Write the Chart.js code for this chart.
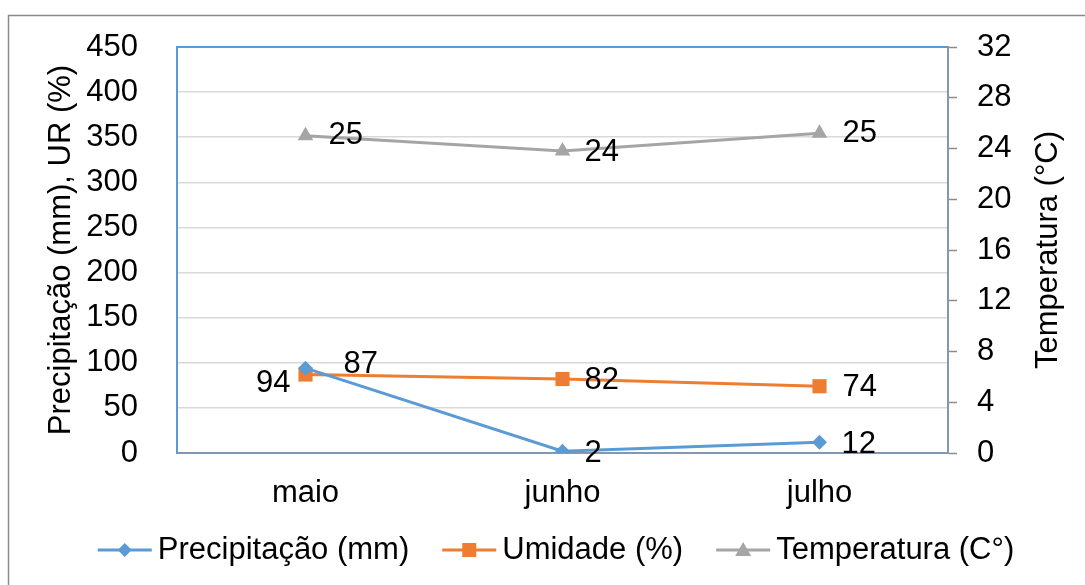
<!DOCTYPE html>
<html lang="pt">
<head>
<meta charset="utf-8">
<title>Precipitação, umidade e temperatura</title>
<script src="https://cdn.jsdelivr.net/npm/chart.js@4/dist/chart.umd.min.js"></script>
<style>
  html, body { margin: 0; padding: 0; background: #fff; }
  #wrap { width: 1085px; height: 585px; position: relative; }
</style>
</head>
<body>
<div id="wrap"><canvas id="chartClima"></canvas></div>
<script>
// Dados
const meses = ['maio', 'junho', 'julho'];
const precipitacao = [94, 2, 12];          // mm
const umidade = [87, 82, 74];              // %
const temperatura = [25.0, 23.8, 25.2];    // °C (eixo direito)

// Escalas
const eixoEsq = { min: 0, max: 450, passo: 50 };
const eixoDir = { min: 0, max: 32, passo: 4 };

// Textos
const tituloEsq = 'Precipitação (mm), UR (%)';
const tituloDir = 'Temperatura (°C)';
const nomes = ['Precipitação (mm)', 'Umidade (%)', 'Temperatura (C°)'];

// Estilo
const FONTE = "'Liberation Sans', Arial, sans-serif";
const TAM = 31;
const AZUL = '#5b9bd5';
const LARANJA = '#ed7d31';
const CINZA = '#a5a5a5';
const EIXO = '#8497b0';

// Posição dos rótulos de dados: [lado, dx, dy] por ponto
const posPrecip = [['left', -15, 15], ['right', 22, 2], ['right', 22, 2]];
const posUmid = [['right', 38, -10], ['right', 22, 1], ['right', 23, 1]];
const posTemp = [['right', 23, 0], ['right', 22, 1], ['right', 23, 0]];

// Plugin: fundo e moldura
const moldura = {
  id: 'moldura',
  beforeDraw(chart) {
    const ctx = chart.ctx;
    ctx.save();
    ctx.fillStyle = '#fff';
    ctx.fillRect(0, 0, chart.width, chart.height);
    ctx.strokeStyle = '#8a8a8a';
    ctx.lineWidth = 1.5;
    ctx.strokeRect(8.5, 15.5, chart.width + 20, chart.height + 20);
    ctx.restore();
  },
  afterDraw(chart) {
    const ctx = chart.ctx;
    const a = chart.chartArea;
    ctx.save();
    // linha superior da área de plotagem
    ctx.strokeStyle = AZUL;
    ctx.lineWidth = 2;
    ctx.beginPath();
    ctx.moveTo(a.left, a.top);
    ctx.lineTo(a.right, a.top);
    ctx.stroke();
    // título do eixo direito (de baixo para cima)
    ctx.fillStyle = '#000';
    ctx.font = TAM + 'px ' + FONTE;
    ctx.textAlign = 'center';
    ctx.textBaseline = 'middle';
    ctx.translate(chart.width - 37, (a.top + a.bottom) / 2);
    ctx.rotate(-Math.PI / 2);
    ctx.fillText(tituloDir, 0, 0);
    ctx.restore();
  }
};

// Plugin: rótulos de dados
const rotulos = {
  id: 'rotulos',
  afterDatasetsDraw(chart) {
    const ctx = chart.ctx;
    ctx.save();
    ctx.font = TAM + 'px ' + FONTE;
    ctx.fillStyle = '#000';
    ctx.textBaseline = 'middle';
    chart.data.datasets.forEach((ds, i) => {
      const meta = chart.getDatasetMeta(i);
      meta.data.forEach((pt, j) => {
        const [lado, dx, dy] = ds.posRotulo[j];
        ctx.textAlign = lado === 'left' ? 'right' : 'left';
        ctx.fillText(Math.round(ds.data[j]).toString(), pt.x + dx, pt.y + dy);
      });
    });
    ctx.restore();
  }
};

function marcador(ctx, estilo, x, y, cor) {
  ctx.fillStyle = cor;
  ctx.beginPath();
  if (estilo === 'rectRot') {
    ctx.moveTo(x - 7, y); ctx.lineTo(x, y - 7); ctx.lineTo(x + 7, y); ctx.lineTo(x, y + 7);
  } else if (estilo === 'rect') {
    ctx.rect(x - 7, y - 7, 14, 14);
  } else {
    ctx.moveTo(x, y - 8); ctx.lineTo(x + 8, y + 6); ctx.lineTo(x - 8, y + 6);
  }
  ctx.closePath();
  ctx.fill();
}

// Plugin: legenda com linha + marcador
const legenda = {
  id: 'legenda',
  afterDraw(chart) {
    const ctx = chart.ctx;
    ctx.save();
    ctx.font = TAM + 'px ' + FONTE;
    ctx.textBaseline = 'middle';
    ctx.textAlign = 'left';
    const linha = 54, gapTxt = 6, gapItem = 33;
    const itens = chart.data.datasets.map(ds => ({
      ds, w: linha + gapTxt + ctx.measureText(ds.label).width
    }));
    const total = itens.reduce((s, it) => s + it.w, 0) + gapItem * (itens.length - 1);
    let x = 556 - total / 2;
    const y = 550;
    itens.forEach(it => {
      ctx.strokeStyle = it.ds.borderColor;
      ctx.lineWidth = 3;
      ctx.beginPath();
      ctx.moveTo(x, y);
      ctx.lineTo(x + linha, y);
      ctx.stroke();
      marcador(ctx, it.ds.pointStyle, x + linha / 2, y, it.ds.borderColor);
      ctx.fillStyle = '#000';
      ctx.fillText(it.ds.label, x + linha + gapTxt, y);
      x += it.w + gapItem;
    });
    ctx.restore();
  }
};

// Zera o espaço extra que a escala reserva para os rótulos das pontas
function semPadding(s) {
  s.paddingTop = 0;
  s.paddingBottom = 0;
}

const ctx = document.getElementById('chartClima').getContext('2d');
new Chart(ctx, {
  type: 'line',
  data: {
    labels: meses,
    datasets: [
      {
        label: nomes[0],
        data: precipitacao,
        yAxisID: 'y',
        borderColor: AZUL,
        backgroundColor: AZUL,
        borderWidth: 3,
        pointStyle: 'rectRot',
        pointRadius: 7.5,
        pointBorderWidth: 0,
        posRotulo: posPrecip
      },
      {
        label: nomes[1],
        data: umidade,
        yAxisID: 'y',
        borderColor: LARANJA,
        backgroundColor: LARANJA,
        borderWidth: 3,
        pointStyle: 'rect',
        pointRadius: 10,
        pointBorderWidth: 0,
        posRotulo: posUmid
      },
      {
        label: nomes[2],
        data: temperatura,
        yAxisID: 'y1',
        borderColor: CINZA,
        backgroundColor: CINZA,
        borderWidth: 3,
        pointStyle: 'triangle',
        pointRadius: 9,
        pointBorderWidth: 0,
        posRotulo: posTemp
      }
    ]
  },
  options: {
    responsive: true,
    maintainAspectRatio: false,
    animation: false,
    layout: { padding: { top: 47, bottom: 72, left: 0, right: 0 } },
    plugins: {
      legend: { display: false },
      tooltip: { enabled: false }
    },
    scales: {
      x: {
        offset: true,
        grid: { display: false, drawTicks: false },
        border: { color: EIXO, width: 2 },
        ticks: { color: '#000', padding: 22, font: { family: FONTE, size: TAM } },
        afterFit(s) { s.height = 60; s.paddingLeft = 0; s.paddingRight = 0; }
      },
      y: {
        position: 'left',
        min: eixoEsq.min,
        max: eixoEsq.max,
        ticks: { stepSize: eixoEsq.passo, color: '#000', padding: 39, font: { family: FONTE, size: TAM } },
        grid: { color: '#d9d9d9', lineWidth: 1.5, drawTicks: false },
        border: { color: AZUL, width: 2 },
        title: {
          display: true,
          text: tituloEsq,
          color: '#000',
          font: { family: FONTE, size: TAM },
          padding: { top: 43, bottom: 0 }
        },
        afterFit(s) { s.width = 177; semPadding(s); }
      },
      y1: {
        position: 'right',
        min: eixoDir.min,
        max: eixoDir.max,
        ticks: { stepSize: eixoDir.passo, color: '#000', padding: 20, font: { family: FONTE, size: TAM } },
        grid: { drawOnChartArea: false, drawTicks: true, tickLength: 9, tickColor: '#8c8c8c', tickWidth: 1.5 },
        border: { color: EIXO, width: 2 },
        afterFit(s) { s.width = 137; semPadding(s); }
      }
    }
  },
  plugins: [moldura, rotulos, legenda]
});
</script>
</body>
</html>
